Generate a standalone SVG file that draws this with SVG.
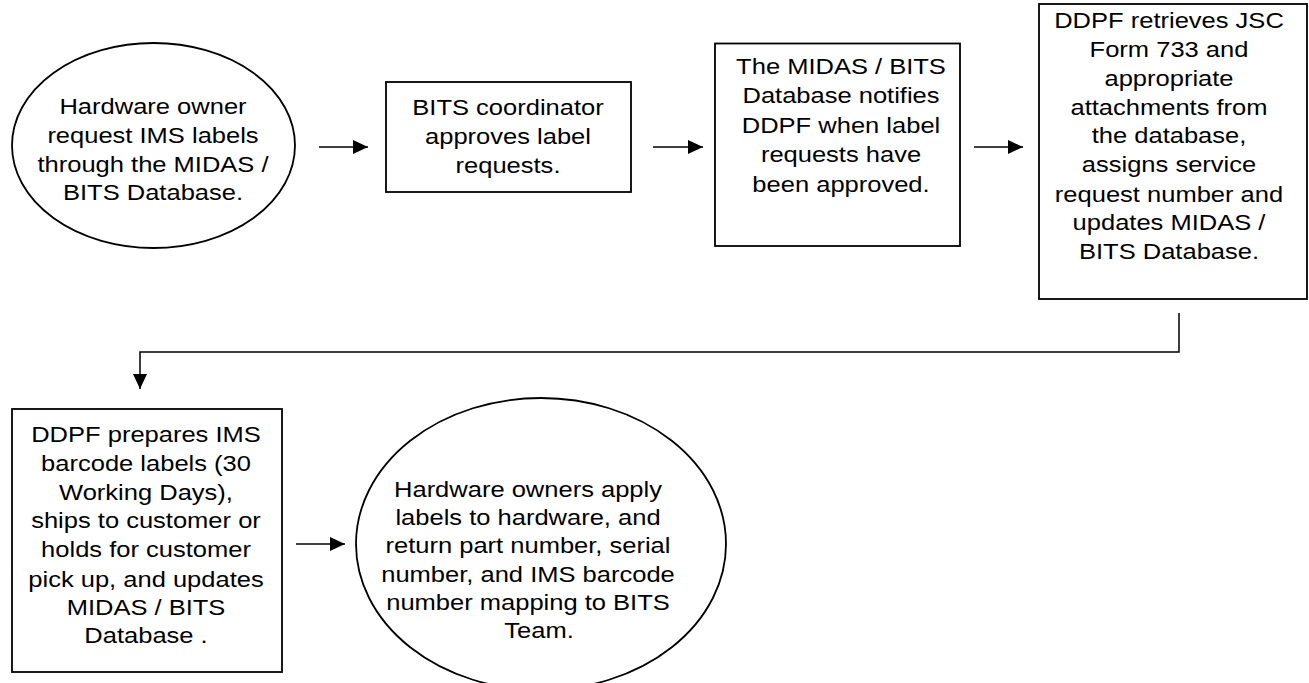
<svg xmlns="http://www.w3.org/2000/svg" width="1309" height="683" viewBox="0 0 1309 683">
<defs>
<marker id="ah" markerWidth="15" markerHeight="14" refX="15" refY="7" orient="auto" markerUnits="userSpaceOnUse"><path d="M0,0 L15,7 L0,14 z" fill="#000"/></marker>
<style>
.shape{fill:#fff;stroke:#000;stroke-width:1.8}
.lbl{font-family:"Liberation Sans",Arial,sans-serif;font-size:22px;fill:#000;text-anchor:middle}
.conn{fill:none;stroke:#000;stroke-width:1.5}
</style>
</defs>
<rect width="1309" height="683" fill="#fff"/>
<g id="n1">
<ellipse class="shape" cx="153.5" cy="145.5" rx="141.5" ry="102.5"/>
<g transform="translate(153,0) scale(1.16,1)"><text class="lbl"><tspan x="0" y="114">Hardware owner</tspan><tspan x="0" y="143">request IMS labels</tspan><tspan x="0" y="172">through the MIDAS /</tspan><tspan x="0" y="200.5">BITS Database.</tspan></text></g>
</g>
<g id="n2">
<rect class="shape" x="386" y="82" width="245" height="110"/>
<g transform="translate(508,0) scale(1.16,1)"><text class="lbl"><tspan x="0" y="115">BITS coordinator</tspan><tspan x="0" y="144">approves label</tspan><tspan x="0" y="173">requests.</tspan></text></g>
</g>
<g id="n3">
<rect class="shape" x="715" y="43.5" width="245" height="202.5"/>
<g transform="translate(841,0) scale(1.16,1)"><text class="lbl"><tspan x="0" y="74">The MIDAS / BITS</tspan><tspan x="0" y="103">Database notifies</tspan><tspan x="0" y="133">DDPF when label</tspan><tspan x="0" y="162">requests have</tspan><tspan x="0" y="192">been approved.</tspan></text></g>
</g>
<g id="n4">
<rect class="shape" x="1039" y="4" width="268" height="295"/>
<g transform="translate(1169,0) scale(1.16,1)"><text class="lbl"><tspan x="0" y="28">DDPF retrieves JSC</tspan><tspan x="0" y="57">Form 733 and</tspan><tspan x="0" y="86">appropriate</tspan><tspan x="0" y="115">attachments from</tspan><tspan x="0" y="143">the database,</tspan><tspan x="0" y="172">assigns service</tspan><tspan x="0" y="202">request number and</tspan><tspan x="0" y="230">updates MIDAS /</tspan><tspan x="0" y="259">BITS Database.</tspan></text></g>
</g>
<g id="n5">
<rect class="shape" x="12" y="409" width="270" height="263"/>
<g transform="translate(146,0) scale(1.16,1)"><text class="lbl"><tspan x="0" y="442">DDPF prepares IMS</tspan><tspan x="0" y="471">barcode labels (30</tspan><tspan x="0" y="500">Working Days),</tspan><tspan x="0" y="528">ships to customer or</tspan><tspan x="0" y="557">holds for customer</tspan><tspan x="0" y="587">pick up, and updates</tspan><tspan x="0" y="615">MIDAS / BITS</tspan><tspan x="0" y="643">Database .</tspan></text></g>
</g>
<g id="n6">
<ellipse class="shape" cx="541" cy="544" rx="185" ry="146"/>
<g transform="translate(528,0) scale(1.16,1)"><text class="lbl"><tspan x="0" y="497">Hardware owners apply</tspan><tspan x="0" y="525">labels to hardware, and</tspan><tspan x="0" y="553">return part number, serial</tspan><tspan x="0" y="582">number, and IMS barcode</tspan><tspan x="0" y="610">number mapping to BITS</tspan><tspan x="9.5" y="638">Team.</tspan></text></g>
</g>
<g id="connectors">
<path class="conn" d="M319,147 H368" marker-end="url(#ah)"/>
<path class="conn" d="M653,147 H703" marker-end="url(#ah)"/>
<path class="conn" d="M974,147 H1023" marker-end="url(#ah)"/>
<path class="conn" d="M1179,313 V352 H140 V389" marker-end="url(#ah)"/>
<path class="conn" d="M296,544 H345" marker-end="url(#ah)"/>
</g>
</svg>
